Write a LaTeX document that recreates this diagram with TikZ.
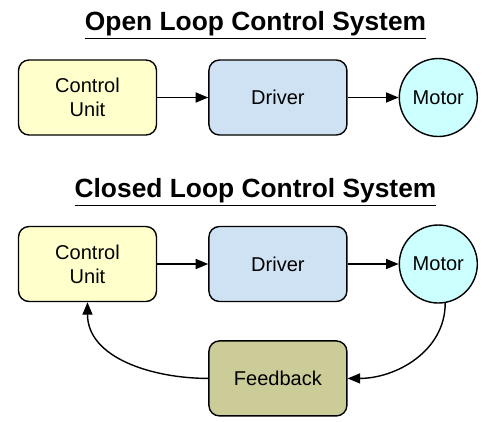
\documentclass[tikz,border=0pt]{standalone}
\usepackage{fontspec}
\setmainfont{Liberation Sans}
\usetikzlibrary{arrows.meta, positioning}
\definecolor{unitfill}{RGB}{255,255,204}
\definecolor{driverfill}{RGB}{207,226,243}
\definecolor{motorfill}{RGB}{204,255,255}
\definecolor{feedfill}{RGB}{204,204,153}

\begin{document}
\begin{tikzpicture}[
    block/.style={draw, thick, minimum width=2.76cm, minimum height=1.5cm, align=center, rounded corners=6pt, font=\fontsize{11.4}{13.5}\selectfont},
    motorblock/.style={draw, thick, circle, minimum size=1.56cm, inner sep=0pt, font=\fontsize{11.4}{13.5}\selectfont},
    heading/.style={font=\fontsize{15}{18}\selectfont\bfseries},
    arrow/.style={-{Triangle[length=0.25cm, width=0.2cm]}, thick},
    node distance=1.02cm
]
    \useasboundingbox (0,0) rectangle (9.9,-8.42);

    % Open loop
    \node[heading] (title_open) at (5.11,-0.5) {\underline{Open Loop Control System}};
    \node[block, fill=unitfill] (unit_open) at (1.75,-1.95) {Control\\Unit};
    \node[block, fill=driverfill, right=of unit_open] (driver_open) {Driver};
    \node[motorblock, fill=motorfill, right=of driver_open] (motor_open) {Motor};

    \draw[arrow] (unit_open) -- (driver_open);
    \draw[arrow] (driver_open) -- (motor_open);

    % Closed loop
    \node[heading] (title_closed) at (5.11,-3.84) {\underline{Closed Loop Control System}};
    \node[block, fill=unitfill] (unit_closed) at (1.75,-5.28) {Control\\Unit};
    \node[block, fill=driverfill, right=of unit_closed] (driver_closed) {Driver};
    \node[motorblock, fill=motorfill, right=of driver_closed] (motor_closed) {Motor};
    \node[block, fill=feedfill, below=0.76cm of driver_closed] (feedback) {Feedback};

    \draw[arrow] (unit_closed) -- (driver_closed);
    \draw[arrow] (driver_closed) -- (motor_closed);

    % Feedback path
    \draw[arrow] (motor_closed.-80) to[out=-90, in=0] (feedback.east);
    \draw[arrow] (feedback.west) to[out=180, in=-90] (unit_closed.south);

\end{tikzpicture}
\end{document}
